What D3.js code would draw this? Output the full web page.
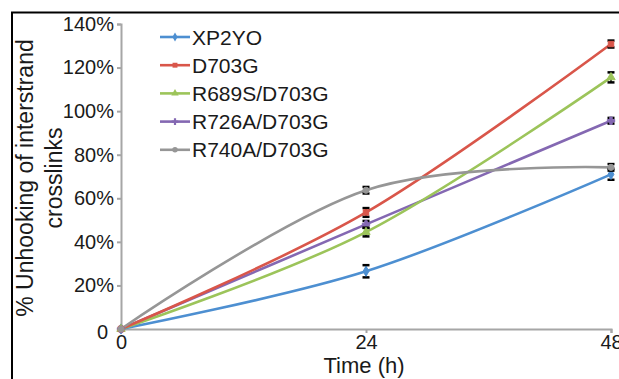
<!DOCTYPE html>
<html>
<head>
<meta charset="utf-8">
<script src="https://cdn.jsdelivr.net/npm/d3@7"></script>
<style>
  html, body { margin: 0; padding: 0; background: #fff; }
  svg { display: block; font-family: "Liberation Sans", Arial, sans-serif; }
</style>
</head>
<body>
<svg id="chart" width="619" height="379"></svg>
<script>
// time points (h)
const hours = [0, 24, 48];
const yTicks = [0, 20, 40, 60, 80, 100, 120, 140];

const seriesNames = ["XP2YO", "D703G", "R689S/D703G", "R726A/D703G", "R740A/D703G"];
const seriesColors = ["#4d8fd1", "#d9564a", "#9cc45a", "#8468b2", "#969696"];
const seriesMarkers = ["diamond", "square", "triangle", "star", "circle"];

// % unhooking, per series
const xp2yo = [0, 26.5, 71];
const d703g = [0, 53.5, 130.8];
const r689s = [0, 44.5, 115.5];
const r726a = [0, 48, 95.6];
const r740a = [0, 63.7, 74.2];

// error (+/-)
const xp2yoErr = [0, 2.8, 2.5];
const d703gErr = [0, 2, 1.6];
const r689sErr = [0, 2, 2.3];
const r726aErr = [0, 1.6, 1.3];
const r740aErr = [0, 1.5, 1.5];

const allValues = [xp2yo, d703g, r689s, r726a, r740a];
const allErrors = [xp2yoErr, d703gErr, r689sErr, r726aErr, r740aErr];

const svg = d3.select("#chart");

// frame (top + left border)
svg.append("path")
  .attr("d", "M12,379 V12.5 H619")
  .attr("fill", "none")
  .attr("stroke", "#000")
  .attr("stroke-width", 2);

const x = d3.scaleLinear().domain([0, 48]).range([121, 611]);
const y = d3.scaleLinear().domain([0, 140]).range([329, 24]);

const axisColor = "#a6a6a6";

// y axis
const yAxis = svg.append("g")
  .attr("transform", "translate(121,0)")
  .call(d3.axisLeft(y).tickValues(yTicks).tickSize(4).tickPadding(3)
    .tickFormat(d => d === 0 ? "0" : d + "%"));
yAxis.select(".domain").attr("stroke", axisColor).attr("stroke-width", 2);
yAxis.selectAll(".tick line").attr("stroke", axisColor).attr("stroke-width", 2);
yAxis.selectAll(".tick text")
  .attr("font-size", 20).attr("fill", "#1a1a1a")
  .attr("font-family", "Liberation Sans, Arial, sans-serif");
yAxis.selectAll(".tick text").filter(d => d === 0).attr("dx", -6).attr("dy", "0.45em");

// x axis
const xAxis = svg.append("g")
  .attr("transform", "translate(0,329)")
  .call(d3.axisBottom(x).tickValues(hours).tickSize(4).tickPadding(2));
xAxis.select(".domain").attr("stroke", axisColor).attr("stroke-width", 2);
xAxis.selectAll(".tick line").attr("stroke", axisColor).attr("stroke-width", 2);
xAxis.selectAll(".tick text")
  .attr("font-size", 20).attr("fill", "#1a1a1a")
  .attr("font-family", "Liberation Sans, Arial, sans-serif");

// axis titles
svg.append("text")
  .attr("x", 364).attr("y", 373)
  .attr("text-anchor", "middle")
  .attr("font-size", 22).attr("fill", "#1a1a1a")
  .text("Time (h)");

const yTitle = svg.append("text")
  .attr("transform", "translate(0,178) rotate(-90)")
  .attr("text-anchor", "middle")
  .attr("font-size", 23).attr("fill", "#1a1a1a");
yTitle.append("tspan").attr("x", 0).attr("y", 33).text("% Unhooking of interstrand");
yTitle.append("tspan").attr("x", 0).attr("y", 62).text("crosslinks");

// marker shapes
function markerPath(kind, size) {
  const map = {
    diamond: d3.symbolDiamond, square: d3.symbolSquare, triangle: d3.symbolTriangle,
    star: d3.symbolCross, circle: d3.symbolCircle
  };
  return d3.symbol().type(map[kind]).size(size)();
}

const line = d3.line()
  .x((d, i) => x(hours[i]))
  .y(d => y(d))
  .curve(d3.curveCardinal.tension(0));

// draw from last to first so gray sits on top at origin like the reference
const order = [0, 3, 2, 1, 4];
order.forEach(s => {
  const g = svg.append("g");
  g.append("path")
    .attr("d", line(allValues[s]))
    .attr("fill", "none")
    .attr("stroke", seriesColors[s])
    .attr("stroke-width", 2.6);
});

// error bars + markers
order.forEach(s => {
  const g = svg.append("g");
  allValues[s].forEach((v, i) => {
    const e = allErrors[s][i];
    const cx = x(hours[i]);
    if (e > 0) {
      g.append("line")
        .attr("x1", cx).attr("x2", cx)
        .attr("y1", y(v - e)).attr("y2", y(v + e))
        .attr("stroke", "#000").attr("stroke-width", 1.5);
      [v - e, v + e].forEach(b => {
        g.append("line")
          .attr("x1", cx - 3.5).attr("x2", cx + 3.5)
          .attr("y1", y(b)).attr("y2", y(b))
          .attr("stroke", "#000").attr("stroke-width", 2.5);
      });
    }
    g.append("path")
      .attr("transform", `translate(${cx},${y(v)})`)
      .attr("d", markerPath(seriesMarkers[s], 30))
      .attr("fill", seriesColors[s])
      .attr("stroke", seriesColors[s])
      .attr("stroke-width", 1);
  });
});

// legend
const legend = svg.append("g");
seriesNames.forEach((name, i) => {
  const ly = 37 + i * 28.2;
  legend.append("line")
    .attr("x1", 160).attr("x2", 190)
    .attr("y1", ly).attr("y2", ly)
    .attr("stroke", seriesColors[i]).attr("stroke-width", 2.6);
  legend.append("path")
    .attr("transform", `translate(175,${ly})`)
    .attr("d", markerPath(seriesMarkers[i], 24))
    .attr("fill", seriesColors[i]);
  legend.append("text")
    .attr("x", 192).attr("y", ly)
    .attr("dy", "0.36em")
    .attr("font-size", 21).attr("fill", "#1a1a1a")
    .text(name);
});
</script>
</body>
</html>
